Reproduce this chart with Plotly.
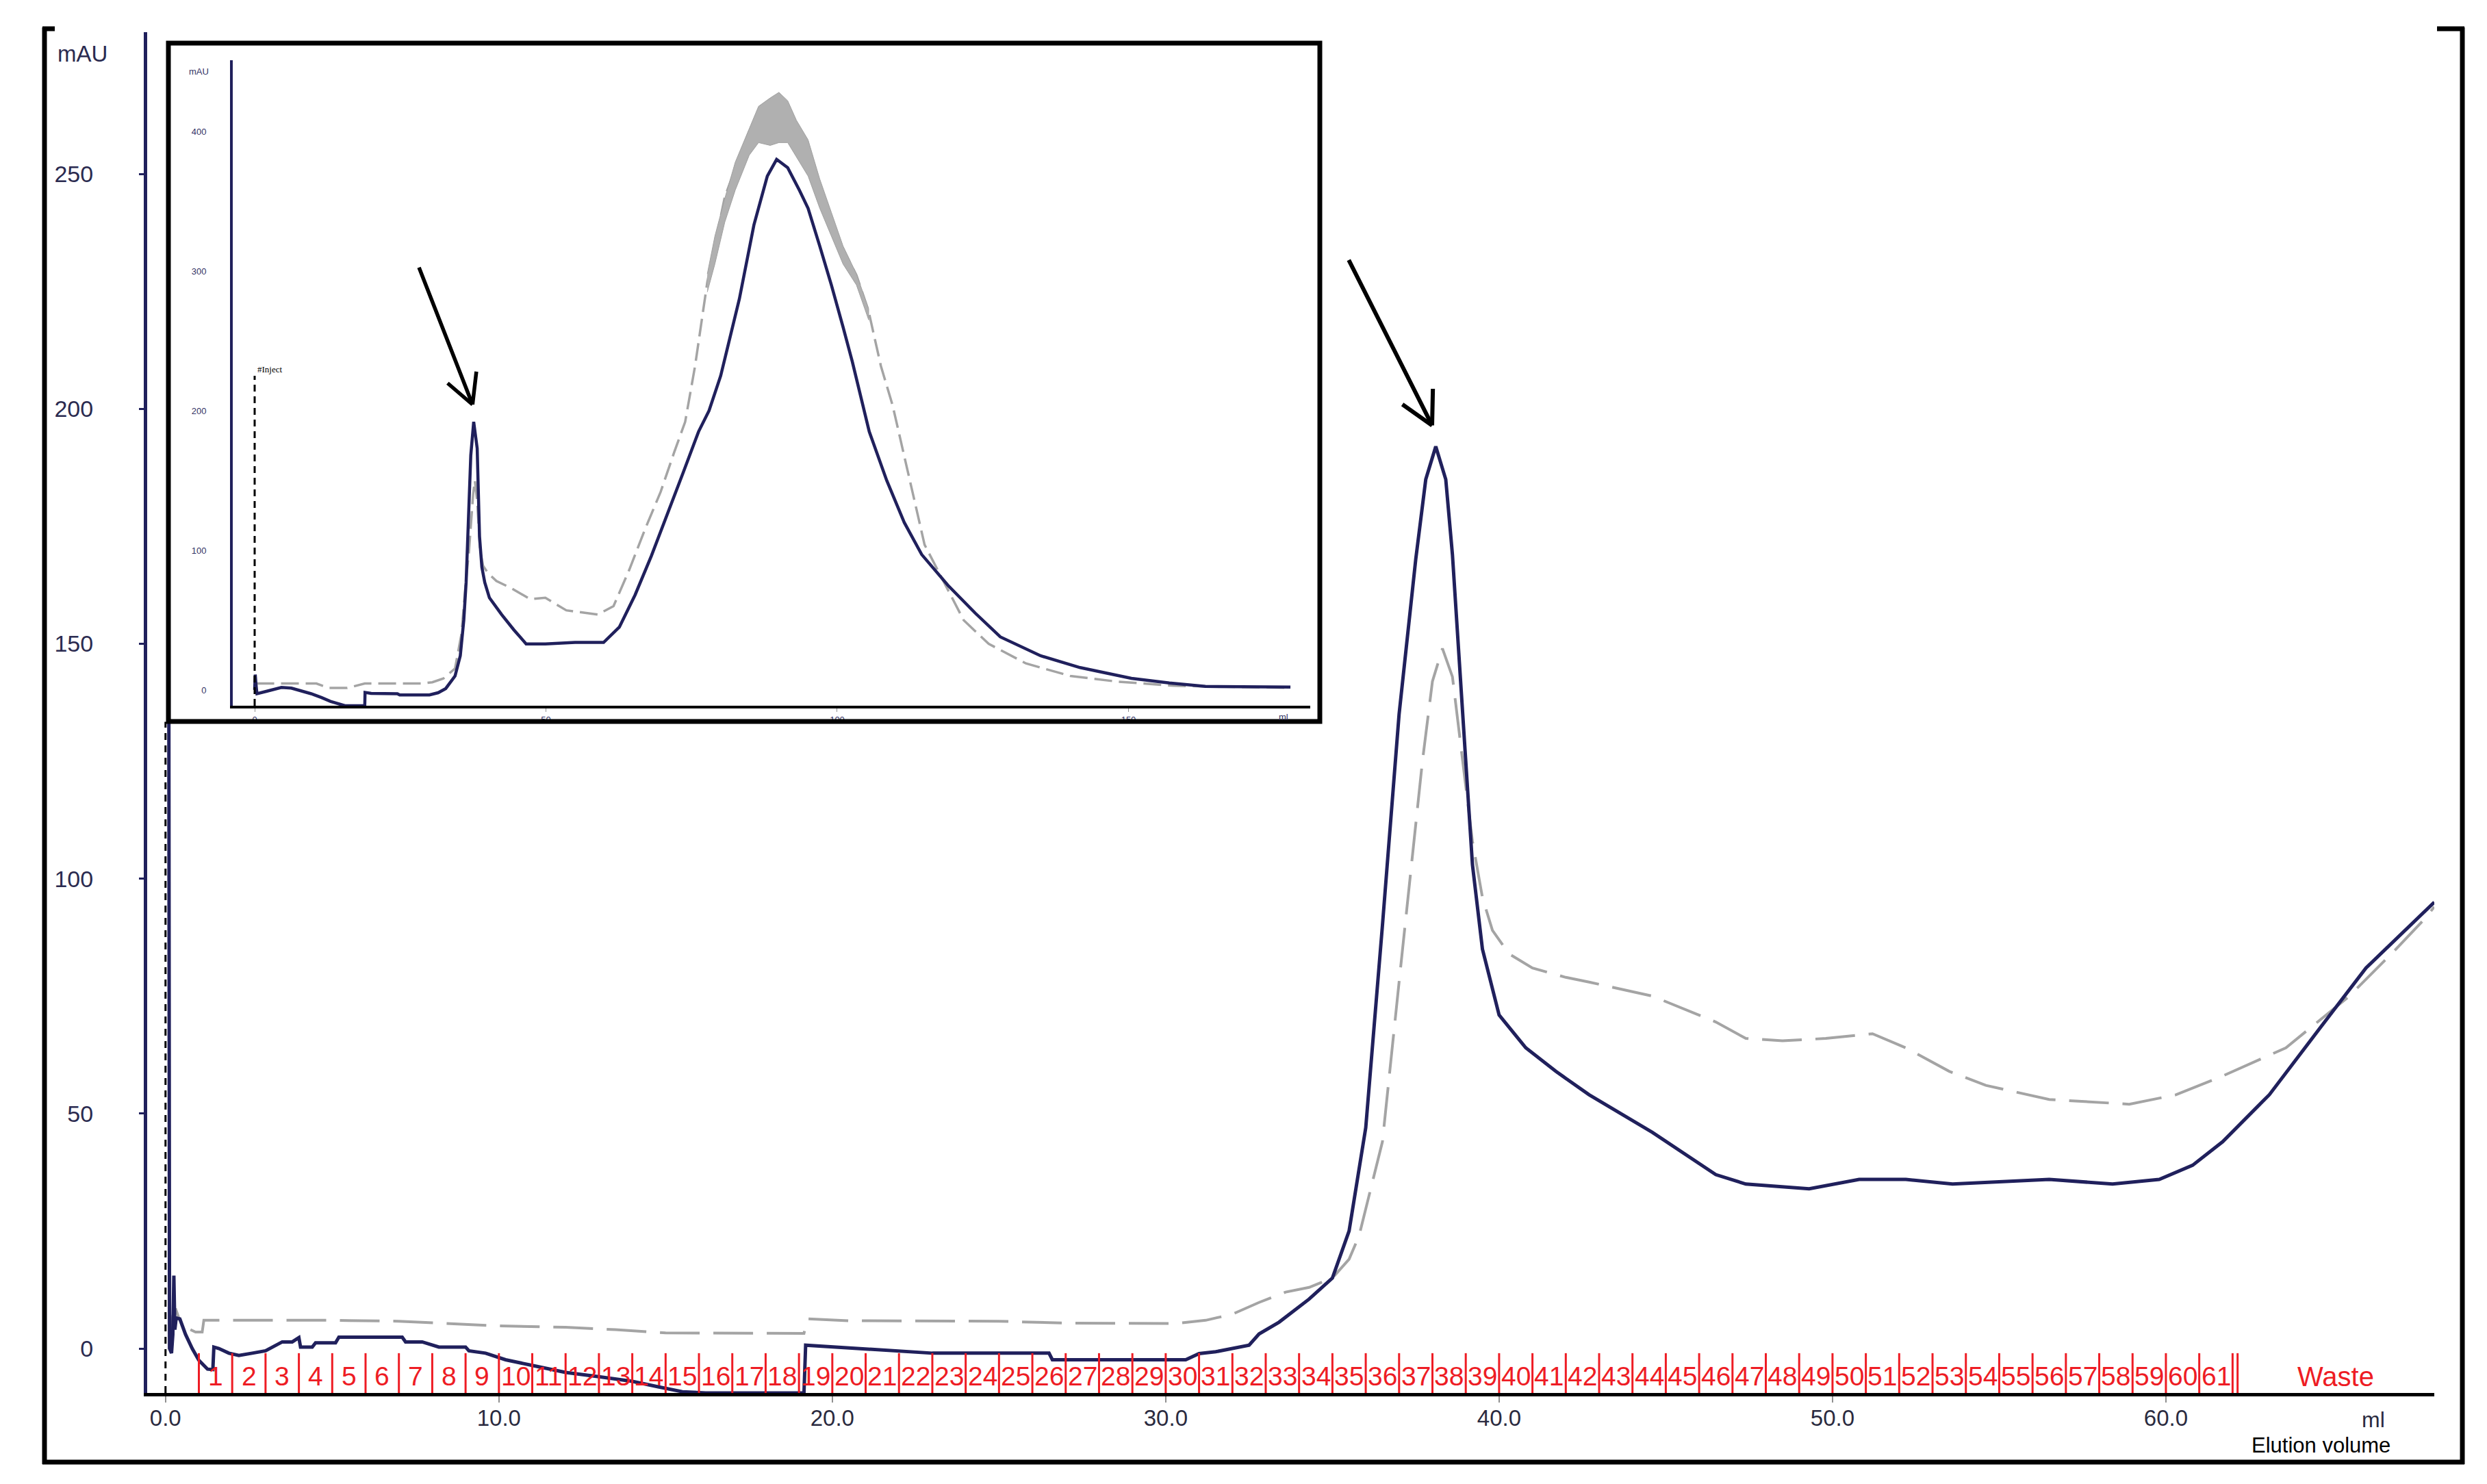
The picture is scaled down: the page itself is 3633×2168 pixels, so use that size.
import math
import plotly.graph_objects as go

W, H = 3633, 2168

# ---------------- data ----------------
# main chromatogram, elution volume (ml) vs absorbance (mAU)
navy_main = [
    (0.06, 276), (0.08, 276), (0.12, 0), (0.18, -1), (0.22, 3), (0.25, 15.5), (0.28, 4),
    (0.32, 6.5), (0.43, 6.3), (0.6, 3), (0.8, 0), (1.0, -2.5), (1.26, -4.4), (1.42, -4.5),
    (1.45, 0.3), (1.6, 0), (1.9, -1), (2.2, -1.5), (2.6, -1), (3.0, -0.5), (3.5, 1.4),
    (3.8, 1.4), (4.0, 2.3), (4.05, 0.3), (4.4, 0.3), (4.5, 1.2), (5.1, 1.2), (5.2, 2.4),
    (7.1, 2.4), (7.2, 1.4), (7.7, 1.4), (8.2, 0.3), (9.0, 0.3), (9.1, -0.5), (9.6, -1),
    (10.2, -2.4), (11.0, -3.6), (12.0, -5.1), (13.0, -6.0), (14.0, -7.0), (14.8, -8.2),
    (15.5, -9.2), (16.2, -9.47), (19.15, -9.47), (19.2, 0.7), (20.2, 0.3), (21.7, -0.3),
    (22.0, -0.5), (23.0, -1.0), (26.5, -1.0), (26.6, -2.4), (30.6, -2.4), (31.0, -1.1),
    (31.5, -0.7), (32.0, 0), (32.5, 0.7), (32.8, 3.1), (33.4, 5.6), (34.3, 10.5),
    (35.0, 15), (35.5, 25), (36.0, 47), (36.5, 90), (37.0, 135), (37.5, 168), (37.8, 185),
    (38.1, 192), (38.4, 185), (38.6, 169), (38.9, 135), (39.2, 103), (39.5, 85), (40.0, 71),
    (40.8, 64), (41.7, 59), (42.7, 54), (44.6, 46), (46.5, 37), (47.4, 35), (49.3, 34),
    (50.8, 36), (52.2, 36), (53.6, 35), (56.5, 36), (58.4, 35), (59.8, 36), (60.8, 39),
    (61.7, 44), (63.1, 54), (64.6, 68), (66.0, 81), (68.05, 95),
]
gray_main = [
    (0.15, 3), (0.22, 7), (0.3, 8.5), (0.4, 6.5), (0.6, 4.5), (0.9, 3.5), (1.1, 3.5),
    (1.15, 6), (3, 6), (5, 6), (7, 5.8), (8.5, 5.3), (10, 4.8), (12, 4.5), (13.5, 4.0),
    (15, 3.3), (17, 3.2), (19.15, 3.2), (19.25, 6.3), (20.5, 5.9), (25, 5.8), (27, 5.4),
    (30.3, 5.3), (31.2, 6.0), (32, 7.3), (32.8, 9.8), (33.6, 12), (34.3, 13), (35, 15),
    (35.5, 19), (35.8, 24), (36.5, 44), (37.0, 78), (37.4, 105), (37.7, 125), (38.0, 142),
    (38.3, 149), (38.6, 143), (38.9, 126), (39.2, 108), (39.5, 96), (39.8, 89), (40.3, 84),
    (41, 81), (42, 79), (42.7, 78), (44.6, 75), (46.5, 69.5), (47.4, 66), (48.5, 65.5),
    (49.8, 66), (51.2, 67), (52.2, 64), (53.5, 59), (54.6, 56), (56.5, 53), (58.9, 52),
    (60.3, 54), (61.7, 58), (63.6, 64), (65.5, 75), (66.9, 85), (67.7, 91), (68.05, 94),
]

# inset chromatogram
navy_inset = [
    (0.0, 0), (0.1, 11), (0.25, 3), (0.4, -2.7), (2, -1), (4.6, 1.8), (6.3, 1.3), (8, -0.5),
    (9.7, -2.7), (11.5, -5.5), (13, -8.2), (15.5, -11.3), (18.9, -11.3), (18.95, -1.8),
    (20, -2.5), (24.5, -2.7), (24.9, -3.6), (30, -3.6), (31.5, -2), (32.8, 1.0), (34.4, 10),
    (35.3, 24.5), (35.9, 50), (36.3, 77), (36.7, 117), (37.1, 168), (37.6, 192), (38.2, 173),
    (38.6, 110), (39.0, 88), (39.5, 77), (40.3, 66), (42.4, 54), (44.5, 43), (46.6, 33),
    (49.9, 33), (55, 34), (59.9, 34), (62.6, 45), (65.3, 68), (68.1, 96), (70.8, 125),
    (73.5, 155), (76.2, 185), (78, 200), (80, 225), (81.7, 255), (83.2, 280), (85.7, 333),
    (88, 368), (89.6, 380), (91.5, 374), (93.5, 358), (95, 345), (97, 318), (99, 290),
    (101, 260), (102.6, 235), (105.5, 185), (108.5, 150), (111.5, 120), (114.5, 97),
    (119, 75), (123.7, 55), (128, 38), (134.9, 24.5), (141.7, 16), (150.5, 8.3), (157, 5),
    (163.2, 2.5), (177.8, 2),
]
gray_inset = [
    (0.3, 4.6), (10.6, 4.6), (12.7, 1.4), (15.9, 1.4), (18.9, 4.6), (28.7, 4.6),
    (30.5, 5.5), (32.4, 8.2), (34.4, 15.4), (35.5, 40), (36.2, 75), (36.8, 100),
    (37.5, 140), (37.8, 150), (38.2, 135), (38.7, 100), (39.2, 89), (40, 84), (41.5, 78),
    (44, 73), (47.3, 65), (49.9, 66), (53.5, 57), (58.9, 54), (61.6, 60), (64.3, 86),
    (67, 115), (69.7, 142), (72, 170), (73.9, 192), (75.6, 232), (77.7, 292), (80.7, 353),
    (84.9, 400), (87, 410), (90, 410), (92, 404), (95, 385), (99, 332),
    (103.3, 297), (105.4, 271), (107.5, 232), (109.5, 204), (111.5, 168), (115, 104),
    (121.7, 50), (126, 33), (132.4, 19), (140, 10), (148, 6), (157.8, 3), (170, 2),
    (177.8, 1.5),
]
# noisy top of the grey inset trace: upper and lower envelope
gray_noise_upper = [(77.7, 298), (79, 325), (80.7, 352), (82.5, 378), (84.9, 402), (86.5, 418),
                    (88.5, 424), (90, 428), (91.5, 422), (93, 408), (95, 394), (97, 366),
                    (99, 342), (101, 318), (103.3, 298), (105.4, 273)]
gray_noise_lower = [(105.4, 265), (103.3, 290), (101, 305), (99, 325), (97, 345),
                    (95, 368), (93, 382), (91.5, 392), (90, 392), (88.5, 390), (86.5, 392),
                    (84.9, 383), (82.5, 358), (80.7, 335), (79, 305), (77.7, 285)]

# fraction collector marks (ml) and labels
fraction_bounds = [1, 2, 3, 4, 5, 6, 7, 8, 9, 10, 11, 12, 13, 14, 15, 16, 17, 18, 19, 20,
                   21, 22, 23, 24, 25, 26, 27, 28, 29, 30, 31, 32, 33, 34, 35, 36, 37, 38, 39,
                   40, 41, 42, 43, 44, 45, 46, 47, 48, 49, 50, 51, 52, 53, 54, 55, 56, 57, 58,
                   59, 60, 61, 62, 62.15]
fraction_labels = [str(i) for i in range(1, 62)]
waste_label = "Waste"
waste_pos = 65.1

main_xticks = [0, 10, 20, 30, 40, 50, 60]
main_xticklabels = ["0.0", "10.0", "20.0", "30.0", "40.0", "50.0", "60.0"]
main_yticks = [0, 50, 100, 150, 200, 250]
inset_xticks = [0, 50, 100, 150]
inset_yticks = [0, 100, 200, 300, 400]

# arrows: head position (data), tail offset in px
main_arrow = dict(x=37.99, y=196.5, dx=-122.5, dy=-243)
inset_arrow = dict(x=37.4, y=204.4, dx=-78.8, dy=-201.7)

# ---------------- styles ----------------
NAVY = "#20205c"
GRAY = "#a4a4a4"
RED = "#ee1c24"
FONT = "Liberation Sans, Arial, sans-serif"
NARROW = "Liberation Sans Narrow, Arial Narrow, Liberation Sans, sans-serif"

Y_BOT_MAIN = -9.47
Y_BOT_INSET = -11.3


def xs(pairs):
    return [p[0] for p in pairs]


def ys(pairs):
    return [p[1] for p in pairs]


fig = go.Figure()

# main traces
fig.add_trace(go.Scatter(x=xs(gray_main), y=ys(gray_main), mode="lines",
                         line=dict(color=GRAY, width=4, dash="58px,20px"),
                         xaxis="x", yaxis="y", hoverinfo="skip"))
fig.add_trace(go.Scatter(x=xs(navy_main), y=ys(navy_main), mode="lines",
                         line=dict(color=NAVY, width=5),
                         xaxis="x", yaxis="y", hoverinfo="skip"))

# inset traces
fig.add_trace(go.Scatter(x=xs(gray_inset), y=ys(gray_inset), mode="lines",
                         line=dict(color=GRAY, width=3.5, dash="26px,10px"),
                         xaxis="x2", yaxis="y2", hoverinfo="skip"))
band = gray_noise_upper + gray_noise_lower
fig.add_trace(go.Scatter(x=xs(band), y=ys(band), mode="lines", fill="toself",
                         fillcolor="#b0b0b0", line=dict(color="#a0a0a0", width=1),
                         xaxis="x2", yaxis="y2", hoverinfo="skip"))
fig.add_trace(go.Scatter(x=xs(navy_inset), y=ys(navy_inset), mode="lines",
                         line=dict(color=NAVY, width=4.5),
                         xaxis="x2", yaxis="y2", hoverinfo="skip"))

shapes = []
annotations = []

# fraction marks
for b in fraction_bounds:
    shapes.append(dict(type="line", xref="x", yref="y", x0=b, x1=b, y0=Y_BOT_MAIN, y1=-1.0,
                       line=dict(color=RED, width=3), layer="above"))
for i, lab in enumerate(fraction_labels):
    mid = (fraction_bounds[i] + fraction_bounds[i + 1]) / 2
    annotations.append(dict(x=mid, y=-5.9, xref="x", yref="y", text=lab, showarrow=False,
                            xanchor="center", yanchor="middle",
                            font=dict(family=NARROW, size=39, color=RED)))
annotations.append(dict(x=waste_pos, y=-5.9, xref="x", yref="y", text=waste_label,
                        showarrow=False, xanchor="center", yanchor="middle",
                        font=dict(family=NARROW, size=40, color=RED)))

# injection marks (dashed)
shapes.append(dict(type="line", xref="x", yref="y", x0=0, x1=0, y0=Y_BOT_MAIN, y1=133.4,
                   line=dict(color="black", width=3, dash="10px,8px"), layer="above"))
shapes.append(dict(type="line", xref="x2", yref="y2", x0=0, x1=0, y0=Y_BOT_INSET, y1=225,
                   line=dict(color="black", width=3, dash="10px,7px"), layer="above"))
annotations.append(dict(x=0, y=225, xref="x2", yref="y2", text="#Inject", showarrow=False,
                        xanchor="left", yanchor="bottom", xshift=2,
                        font=dict(family="Liberation Serif, serif", size=13, color="black")))


# outer frame (left, bottom, right, top corners)
def pline(x0, y0, x1, y1, w=7):
    return dict(type="line", xref="paper", yref="paper", x0=x0 / W, x1=x1 / W,
                y0=1 - y0 / H, y1=1 - y1 / H, line=dict(color="black", width=w), layer="above")


shapes += [pline(65, 40, 65, 2139), pline(62, 2136, 3600, 2136), pline(3597, 40, 3597, 2139),
           pline(62, 42, 80, 42), pline(3560, 42, 3600, 42)]
# inset frame
shapes.append(dict(type="rect", xref="paper", yref="paper", x0=246 / W, x1=1928 / W,
                   y0=1 - 1054 / H, y1=1 - 63 / H, line=dict(color="black", width=7),
                   layer="above"))


# arrows (shaft + two arms)
def add_arrow(a, xref, yref, arm, width):
    annotations.append(dict(x=a["x"], y=a["y"], xref=xref, yref=yref, ax=a["dx"], ay=a["dy"],
                            text="", showarrow=True, arrowhead=0, arrowwidth=width,
                            arrowcolor="black", standoff=0, startstandoff=0))
    L = math.hypot(a["dx"], a["dy"])
    ux, uy = a["dx"] / L, a["dy"] / L
    for ang in (math.radians(28), math.radians(-28)):
        vx = ux * math.cos(ang) - uy * math.sin(ang)
        vy = ux * math.sin(ang) + uy * math.cos(ang)
        annotations.append(dict(x=a["x"], y=a["y"], xref=xref, yref=yref, ax=vx * arm, ay=vy * arm,
                                text="", showarrow=True, arrowhead=0, arrowwidth=width,
                                arrowcolor="black", standoff=0, startstandoff=0))


add_arrow(main_arrow, "x", "y", 55, 6)
add_arrow(inset_arrow, "x2", "y2", 50, 5.5)


def ptext(x, y, text, size, color, family=FONT):
    return dict(x=x / W, y=1 - y / H, xref="paper", yref="paper", text=text, showarrow=False,
                xanchor="center", yanchor="middle", font=dict(family=family, size=size, color=color))


# axis titles / units
annotations += [
    ptext(121, 78, "mAU", 33, "#2b2b50"),
    ptext(3467, 2074, "ml", 32, "#2b2b40"),
    ptext(3390, 2111, "Elution volume", 31, "black"),
    ptext(290, 104, "mAU", 13, "#333366"),
    ptext(1875, 1047, "ml", 13, "#333366"),
]

fig.update_layout(
    template="none",
    width=W, height=H,
    margin=dict(l=0, r=0, t=0, b=0),
    paper_bgcolor="white", plot_bgcolor="white",
    showlegend=False,
    font=dict(family=FONT),
    xaxis=dict(domain=[215 / W, 3556 / W], range=[-0.55, 68.05], anchor="y",
               showline=True, linecolor="black", linewidth=5, mirror=False,
               ticks="outside", ticklen=9, tickwidth=2, tickcolor="#909090",
               tickvals=main_xticks, ticktext=main_xticklabels,
               tickfont=dict(family=FONT, size=33, color="#2b2b40"),
               ticklabelstandoff=-6,
               showgrid=False, zeroline=False, automargin=False),
    yaxis=dict(domain=[(H - 2035) / H, (H - 47) / H], range=[Y_BOT_MAIN, 280.2], anchor="x",
               showline=True, linecolor=NAVY, linewidth=5,
               ticks="outside", ticklen=7, tickwidth=3, tickcolor=NAVY,
               tickvals=main_yticks, tickfont=dict(family=FONT, size=34, color="#2b2b50"),
               ticklabelstandoff=60,
               showgrid=False, zeroline=False, automargin=False),
    xaxis2=dict(domain=[340 / W, 1914 / W], range=[-3.76, 181.2], anchor="y2",
                showline=True, linecolor="black", linewidth=4,
                ticks="outside", ticklen=5, tickwidth=1, tickcolor="#909090",
                tickvals=inset_xticks, tickfont=dict(family=FONT, size=13, color="#333366"),
                ticklabelstandoff=0,
                showgrid=False, zeroline=False, automargin=False),
    yaxis2=dict(domain=[(H - 1031) / H, (H - 88) / H], range=[Y_BOT_INSET, 451], anchor="x2",
                showline=True, linecolor=NAVY, linewidth=4, ticks="",
                tickvals=inset_yticks, tickfont=dict(family=FONT, size=13, color="#333366"),
                ticklabelstandoff=32,
                showgrid=False, zeroline=False, automargin=False),
    shapes=shapes,
    annotations=annotations,
)

fig.write_html("out.html", config={"displayModeBar": False, "staticPlot": True},
               post_script="document.body.style.margin='0';document.body.style.overflow='hidden';")
